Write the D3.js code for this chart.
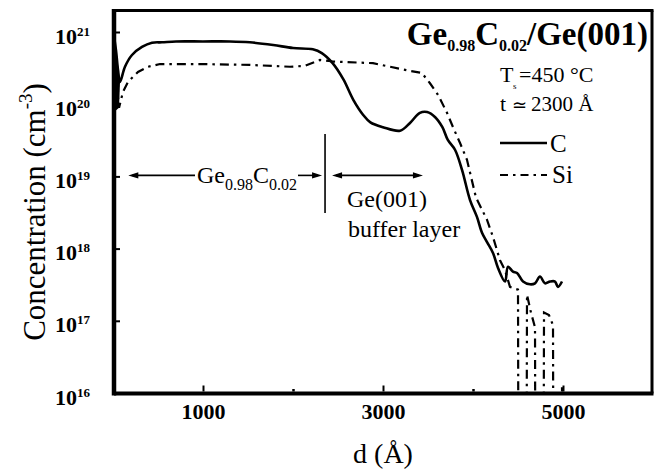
<!DOCTYPE html>
<html>
<head>
<meta charset="utf-8">
<script src="https://cdn.jsdelivr.net/npm/d3@7"></script>
<style>
  body { margin: 0; background: #fff; }
  svg { display: block; }
  text { font-family: "Liberation Serif", "Times New Roman", serif; fill: #000; }
</style>
</head>
<body>
<svg id="chart" width="656" height="472"></svg>
<script>
// SIMS depth profile of a Ge0.98C0.02 layer grown on a Ge(001) buffer.
// Depth in Å, concentration in cm^-3.
const cDepth = [0, 33, 56, 78, 133, 211, 322, 433, 544, 700, 1000, 1300, 1520, 1780, 2000, 2220, 2320, 2440,
  2560, 2670, 2780, 2860, 3000, 3190, 3300, 3410, 3490, 3580, 3660, 3720, 3800, 3878, 3967, 4044, 4100,
  4156, 4222, 4278, 4356, 4389, 4444, 4489, 4556, 4633, 4689, 4744, 4800, 4856, 4911, 4944, 4989];
const cConc = [1.07e21, 5.6e20, 2.95e20, 2.04e20, 3.3e20, 4.8e20, 6.2e20, 7.1e20, 7.2e20, 7.4e20, 7.4e20, 7.4e20,
  7.2e20, 6.6e20, 6.0e20, 5.75e20, 5.1e20, 3.7e20, 2.2e20, 1.15e20, 7.1e19, 5.6e19, 4.8e19, 4.3e19, 5.5e19,
  7.6e19, 7.8e19, 6.6e19, 4.8e19, 3.2e19, 2.34e19, 1.23e19, 4.7e18, 2.75e18, 1.66e18, 1.23e18, 8.7e17,
  5.4e17, 3.5e17, 5.6e17, 4.8e17, 4.6e17, 3.5e17, 3.2e17, 3.3e17, 4.1e17, 3.3e17, 3.5e17, 3.5e17, 2.95e17,
  3.5e17];

// Si signal; 1e14 marks channels with no counts (below the plotted range).
const siDepth = [0, 33, 67, 89, 111, 167, 278, 389, 522, 967, 1522, 1967, 2133, 2300, 2444, 2889, 3078, 3300,
  3433, 3522, 3611, 3711, 3778, 3856, 3933, 4033, 4156, 4222, 4300, 4356, 4411, 4456, 4500, 4506, 4594,
  4600, 4644, 4689, 4694, 4783, 4789, 4844, 4889, 4894, 4983, 4989, 4994];
const siConc = [7.8e20, 2.5e20, 8.9e19, 1.15e20, 1.48e20, 2.04e20, 2.8e20, 3.3e20, 3.6e20, 3.6e20, 3.5e20,
  3.3e20, 3.4e20, 4.1e20, 3.9e20, 3.7e20, 3.3e20, 2.9e20, 2.7e20, 1.95e20, 1.35e20, 7.6e19, 4.8e19, 2.9e19,
  1.7e19, 5.1e18, 2.5e18, 1.45e18, 6.9e17, 5.0e17, 2.95e17, 2.8e17, 2.7e17, 1e14, 1e14, 2.3e17, 1.3e17,
  8.1e16, 1e14, 1e14, 1.3e17, 1.2e17, 8.7e16, 1e14, 1e14, 1.2e16, 1e14];

const xTicks = [1000, 3000, 5000];
const xMinorTicks = [2000, 4000];
const yTicks = [1e16, 1e17, 1e18, 1e19, 1e20, 1e21];
const yTickExponents = ["16", "17", "18", "19", "20", "21"];

// Layer boundaries used by the annotation arrows (Å)
const gecStart = 170;
const gecInterface = 2356;
const bufferEnd = 3444;

const svg = d3.select("#chart");
const x = d3.scaleLinear().domain([0, 6000]).range([113, 653]);
const y = d3.scaleLog().domain([1e16, 1e21]).range([393, 32]);

const L = 114, R = 652, T = 10.5, B = 393.5;

svg.append("clipPath").attr("id", "plotArea")
  .append("rect").attr("x", L + 2).attr("y", T + 1.5).attr("width", R - L - 3.5).attr("height", B - T - 3.5);

// Ticks
const xAxis = d3.axisBottom(x).tickValues(xTicks).tickSizeInner(-6).tickSizeOuter(0).tickPadding(14)
  .tickFormat(d3.format("d"));
const gx = svg.append("g").attr("transform", `translate(0,${B - 2})`).call(xAxis);
gx.select(".domain").remove();
gx.selectAll(".tick line").attr("stroke", "#000").attr("stroke-width", 2);
gx.selectAll(".tick text").attr("font-family", "Liberation Serif").attr("font-weight", "bold")
  .attr("font-size", 22).attr("dy", null).attr("y", 27).attr("fill", "#000");

const gxm = svg.append("g").attr("transform", `translate(0,${B - 2})`)
  .call(d3.axisBottom(x).tickValues(xMinorTicks).tickSizeInner(-2.5).tickSizeOuter(0).tickFormat(""));
gxm.select(".domain").remove();
gxm.selectAll(".tick line").attr("stroke", "#000").attr("stroke-width", 2.5);

const yAxis = d3.axisLeft(y).tickValues(yTicks).tickSizeInner(-4).tickSizeOuter(0).tickPadding(27)
  .tickFormat("");
const gy = svg.append("g").attr("transform", `translate(${L + 2},0)`).call(yAxis);
gy.select(".domain").remove();
gy.selectAll(".tick line").attr("stroke", "#000").attr("stroke-width", 2);
gy.selectAll(".tick text").each(function (d, i) {
  const t = d3.select(this).attr("dy", null).attr("y", 11)
    .attr("font-family", "Liberation Serif").attr("font-weight", "bold").attr("font-size", 22)
    .attr("fill", "#000").attr("x", -26);
  t.text(null);
  t.append("tspan").text("10");
  t.append("tspan").attr("font-size", 13).attr("dy", -8).text(yTickExponents[i]);
});

// Profiles
const line = d3.line().x((d) => x(d[0])).y((d) => y(d[1]));
const plot = svg.append("g").attr("clip-path", "url(#plotArea)");
const plotAll = svg.append("g");

plot.append("path")
  .datum(siDepth.map((d, i) => [d, siConc[i]]))
  .attr("fill", "none").attr("stroke", "#000").attr("stroke-width", 2.2)
  .attr("stroke-dasharray", "9,5,2.5,5")
  .attr("d", line);

plot.append("path")
  .datum(cDepth.map((d, i) => [d, cConc[i]]))
  .attr("fill", "none").attr("stroke", "#000").attr("stroke-width", 2.6)
  .attr("stroke-linejoin", "round")
  .attr("d", line.curve(d3.curveCatmullRom.alpha(0.5)));

// Left edge spike where both profiles start
plotAll.append("path")
  .attr("d", `M${L},${y(1.07e21)} L${x(78)},${y(2.04e20)} L${x(67)},${y(8.9e19)} L${L},${y(7.8e19)} Z`)
  .attr("fill", "#000");

// Frame
svg.append("line").attr("x1", L).attr("x2", L).attr("y1", T - 1.5).attr("y2", B + 2).attr("stroke", "#000").attr("stroke-width", 4.5);
svg.append("line").attr("x1", L).attr("x2", R + 1.5).attr("y1", B).attr("y2", B).attr("stroke", "#000").attr("stroke-width", 4);
svg.append("line").attr("x1", L).attr("x2", R + 1.5).attr("y1", T).attr("y2", T).attr("stroke", "#000").attr("stroke-width", 3);
svg.append("line").attr("x1", R).attr("x2", R).attr("y1", T).attr("y2", B).attr("stroke", "#000").attr("stroke-width", 3);

// Axis titles
const yTitle = svg.append("text").attr("transform", "translate(45,212) rotate(-90)")
  .attr("text-anchor", "middle").attr("font-size", 31);
yTitle.append("tspan").text("Concentration (cm");
yTitle.append("tspan").attr("font-size", 19).attr("dy", -13).text("-3");
yTitle.append("tspan").attr("dy", 13).text(")");

svg.append("text").attr("x", 383).attr("y", 463).attr("text-anchor", "middle").attr("font-size", 28)
  .text("d (Å)");

// Sample title and growth conditions
const title = svg.append("text").attr("x", 648).attr("y", 45).attr("text-anchor", "end")
  .attr("font-weight", "bold").attr("font-size", 33);
title.append("tspan").text("Ge");
title.append("tspan").attr("font-size", 16).attr("dy", 6).text("0.98");
title.append("tspan").attr("dy", -6).text("C");
title.append("tspan").attr("font-size", 16).attr("dy", 6).text("0.02");
title.append("tspan").attr("dy", -6).text("/Ge(001)");

const ts = svg.append("text").attr("y", 82).attr("font-size", 22);
ts.append("tspan").attr("x", 500).text("T");
ts.append("tspan").attr("x", 513).attr("dy", 7).attr("font-size", 9).text("s");
ts.append("tspan").attr("x", 519).attr("dy", -7).text("=450 °C");

const tt = svg.append("text").attr("y", 111).attr("font-size", 22);
tt.append("tspan").attr("x", 500).text("t");
tt.append("tspan").attr("x", 512).attr("font-size", 18).text("≃");
tt.append("tspan").attr("x", 531).attr("font-size", 21).text("2300 Å");

// Legend
svg.append("line").attr("x1", 500).attr("x2", 547).attr("y1", 143).attr("y2", 143)
  .attr("stroke", "#000").attr("stroke-width", 2.6);
svg.append("text").attr("x", 550).attr("y", 152).attr("font-size", 25).text("C");
svg.append("line").attr("x1", 500).attr("x2", 547).attr("y1", 175).attr("y2", 175)
  .attr("stroke", "#000").attr("stroke-width", 2.2).attr("stroke-dasharray", "8,5,2.5,5");
svg.append("text").attr("x", 552).attr("y", 183).attr("font-size", 25).text("Si");

// Layer annotations
const ay = y(1e19) - 1;
const xi = x(gecInterface);

function arrowHead(tipX, dir) {
  svg.append("path")
    .attr("d", `M${tipX},${ay} L${tipX - dir * 10},${ay - 3.2} L${tipX - dir * 10},${ay + 3.2} Z`)
    .attr("fill", "#000");
}

const gecLabel = svg.append("text").attr("x", 197).attr("y", 183).attr("font-size", 24);
gecLabel.append("tspan").text("Ge");
gecLabel.append("tspan").attr("font-size", 16).attr("dy", 7).text("0.98");
gecLabel.append("tspan").attr("dy", -7).text("C");
gecLabel.append("tspan").attr("font-size", 16).attr("dy", 7).text("0.02");
const bb = gecLabel.node().getBBox();

const leftTip = x(gecStart), rightTip = xi - 3;
svg.append("line").attr("x1", leftTip + 4).attr("x2", bb.x - 2).attr("y1", ay).attr("y2", ay)
  .attr("stroke", "#000").attr("stroke-width", 1.6);
svg.append("line").attr("x1", bb.x + bb.width + 1).attr("x2", rightTip - 4).attr("y1", ay).attr("y2", ay)
  .attr("stroke", "#000").attr("stroke-width", 1.6);
arrowHead(leftTip, -1);
arrowHead(rightTip, 1);

svg.append("line").attr("x1", xi).attr("x2", xi).attr("y1", 134).attr("y2", 213)
  .attr("stroke", "#000").attr("stroke-width", 1.6);

const bufLeft = xi + 7, bufRight = x(bufferEnd);
svg.append("line").attr("x1", bufLeft + 4).attr("x2", bufRight - 4).attr("y1", ay).attr("y2", ay)
  .attr("stroke", "#000").attr("stroke-width", 1.6);
arrowHead(bufLeft, -1);
arrowHead(bufRight, 1);

svg.append("text").attr("x", 347).attr("y", 207).attr("font-size", 24).text("Ge(001)");
svg.append("text").attr("x", 348).attr("y", 237).attr("font-size", 24).text("buffer layer");
</script>
</body>
</html>
